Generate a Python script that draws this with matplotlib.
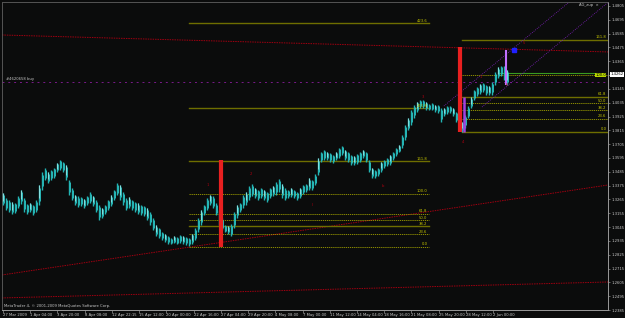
import matplotlib
matplotlib.use("Agg")
import matplotlib.pyplot as plt
import numpy as np

# ---------------- data (prices in points, price*10000) ----------------
highs = [13317,13277,13261,13245,13237,13293,13341,13277,13229,13237,13221,13261,13380,13484,13516,13484,13500,13516,13555,13579,
         13563,13540,13420,13356,13301,13293,13285,13269,13293,13325,13293,13261,13221,13197,13221,13261,13301,13341,13396,13380,
         13325,13277,13285,13261,13245,13237,13221,13213,13197,13165,13118,13062,13038,13006,12990,12974,12958,12974,12966,12982,
         12974,12966,12958,12990,13038,13118,13181,13221,13277,13301,13293,13237,13181,13118,13062,13054,13070,13165,13221,13237,
         13301,13325,13372,13388,13356,13341,13356,13341,13325,13356,13372,13404,13428,13388,13356,13341,13356,13341,13325,13356,
         13380,13388,13436,13420,13468,13595,13643,13659,13643,13635,13619,13643,13675,13691,13659,13643,13619,13611,13627,13643,
         13659,13643,13579,13516,13500,13516,13563,13579,13595,13619,13643,13675,13699,13778,13858,13914,13977,14017,14041,14057,
         14057,14041,14025,14033,14017,14017,13993,13993,14009,14009,13993,13962,13914,13882,13938,14009,14081,14137,14160,14184,
         14192,14176,14168,14200,14280,14320,14328,14328,14296]
lows = [13221,13181,13165,13150,13158,13197,13229,13165,13150,13165,13142,13165,13221,13341,13420,13396,13420,13436,13484,13500,
        13484,13420,13301,13261,13221,13205,13213,13197,13221,13237,13213,13165,13102,13118,13150,13181,13213,13261,13301,13261,
        13221,13181,13197,13181,13165,13150,13142,13134,13102,13062,13022,12974,12958,12943,12927,12911,12911,12919,12911,12919,
        12911,12903,12895,12911,12943,13006,13062,13142,13181,13221,13197,13142,13062,13022,13006,12990,12974,13038,13118,13165,
        13197,13221,13261,13293,13277,13261,13277,13261,13245,13277,13293,13301,13325,13277,13261,13277,13285,13277,13261,13277,
        13309,13325,13341,13341,13380,13460,13563,13579,13579,13563,13555,13579,13595,13619,13579,13563,13540,13540,13547,13563,
        13595,13563,13484,13436,13436,13452,13484,13516,13532,13540,13579,13611,13643,13675,13739,13818,13858,13914,13962,13993,
        13993,13977,13977,13977,13962,13954,13882,13930,13946,13954,13930,13882,13818,13802,13834,13914,13993,14057,14089,14105,
        14121,14097,14097,14097,14176,14232,14248,14216,14176]

date_labels = ["27 Mar 2009", "1 Apr 04:00", "3 Apr 20:00", "8 Apr 08:00", "12 Apr 22:15", "15 Apr 12:00",
               "20 Apr 00:00", "22 Apr 16:00", "27 Apr 04:00", "29 Apr 20:00", "4 May 08:00", "7 May 00:00",
               "11 May 12:00", "14 May 04:00", "18 May 16:00", "21 May 08:00", "25 May 20:00", "28 May 12:00",
               "2 Jun 00:00"]

fib_levels = [0.0, 23.6, 38.2, 50.0, 61.8, 100.0, 161.8, 261.8, 423.6]
fib1_low, fib1_high = 1.2890, 1.3310
fib2_levels = [0.0, 23.6, 38.2, 50.0, 61.8, 100.0, 161.8]
fib2_low, fib2_high = 1.3802, 1.4256
order_price = 1.4200
order_label = "#4620658 buy"
current_price = 1.4262

# y axis price scale
y_first_tick = 1.2385
y_tick_step = 0.0110
n_ticks = 23

# ---------------- figure ----------------
W, H = 625, 318
BG = "#0b0c0c"
fig = plt.figure(figsize=(W / 100, H / 100), dpi=100, facecolor=BG)
ax = fig.add_axes([2 / W, (H - 310) / H, 606 / W, 308 / H], facecolor=BG)

FONT = ["Liberation Sans Narrow", "DejaVu Sans"]
FS = 2.7
TXT = "#c8c8c8"

n = len(highs)
xs = np.arange(n)
hi = np.array(highs) / 1e4
lo = np.array(lows) / 1e4
ax.vlines(xs, lo, hi, color="#22b4b4", lw=1.0, zorder=3)
ax.vlines(xs + 0.45, lo + (hi - lo) * 0.2, hi - (hi - lo) * 0.15, color="#2fcfcf", lw=0.6, zorder=3)
ax.vlines(xs[::3], lo[::3] + (hi[::3] - lo[::3]) * 0.35, hi[::3], color="#b0f0f0", lw=0.5, zorder=3)

x_left, x_right = -0.3, 201.7
ymin = y_first_tick
ymax = y_first_tick + (308 / 13.82) * y_tick_step
ax.set_xlim(x_left, x_right)
ax.set_ylim(ymin, ymax)

# trend / channel lines (dark red dotted)
trend_lines = [((x_left, 1.4574), (x_right, 1.4439)),
               ((x_left, 1.2664), (x_right, 1.3380)),
               ((x_left, 1.2481), (x_right, 1.2608))]
for (x0, y0), (x1, y1) in trend_lines:
    ax.plot([x0, x1], [y0, y1], color="#a00010", lw=0.7, ls=(0, (1.5, 1.0)), zorder=2)

# order line
ax.plot([x_left, x_right], [order_price, order_price], color="#7a1a8a", lw=0.7, ls=(0, (2, 4)), zorder=2)
ax.text(1.0, order_price + 0.0008, order_label, color=TXT, fontsize=FS, family=FONT, va="bottom", ha="left")

# fibonacci set 1
fib1_x0, fib1_x1 = 62, 142
solid1 = {423.6, 261.8, 161.8, 38.2}
for lv in fib_levels:
    p = fib1_low + (fib1_high - fib1_low) * lv / 100
    if lv in solid1:
        ax.plot([fib1_x0, fib1_x1], [p, p], color="#6e6e00", lw=1.0, zorder=2)
    else:
        ax.plot([fib1_x0, fib1_x1], [p, p], color="#a0a000", lw=0.6, ls=(0, (1.5, 1)), zorder=2)
    ax.text(fib1_x1 - 0.5, p + 0.0004, f"{lv:.1f}", color="#c8c800", fontsize=FS, family=FONT,
            ha="right", va="bottom", zorder=4)

# fibonacci set 2
fib2_x0, fib2_x1 = 153, x_right
for lv in fib2_levels:
    p = fib2_low + (fib2_high - fib2_low) * lv / 100
    if lv in (161.8, 61.8, 0.0):
        ax.plot([fib2_x0, fib2_x1], [p, p], color="#6e6e00", lw=1.0, zorder=2)
    else:
        ax.plot([fib2_x0, fib2_x1], [p, p], color="#a0a000", lw=0.6, ls=(0, (1.5, 1)), zorder=2)
    if lv == 100.0:
        ax.text(fib2_x1 - 0.7, p, f"{lv:.1f}", color="#000000", fontsize=FS, family=FONT, ha="right",
                va="center", zorder=5, bbox=dict(boxstyle="square,pad=0.1", fc="#b8d800", ec="none"))
    else:
        ax.text(fib2_x1 - 0.5, p + 0.0004, f"{lv:.1f}", fontsize=FS, family=FONT, ha="right",
                va="bottom", zorder=4, color="#c8c800")

# green line near 100 level
ax.plot([165, 198], [1.4272, 1.4272], color="#3a9a20", lw=0.8, zorder=2)

# vertical bars
ax.vlines([72.7], [1.2887], [1.3579], color="#e82020", lw=3.0, zorder=4)
ax.vlines([152.3], [1.3802], [1.4479], color="#e82020", lw=3.0, zorder=4)
ax.vlines([153.7], [1.3802], [1.4081], color="#a040e0", lw=1.8, zorder=4)
ax.vlines([167.7], [1.4176], [1.4455], color="#c070ff", lw=1.5, zorder=4)
ax.plot([170.3], [1.4455], marker="s", ms=3.5, color="#2020ff", zorder=5)

# purple diagonal lines
diag_lines = [((147, 1.4009), (190, 1.4861)), ((159.7, 1.4001), (202.7, 1.4853))]
for (x0, y0), (x1, y1) in diag_lines:
    ax.plot([x0, x1], [y0, y1], color="#8020c0", lw=0.6, ls=(0, (1, 1.5)), zorder=2)

# zup markers
markers = [("1", 68.3, 1.3380), ("2", 82.7, 1.3469), ("3", 140, 1.4080), ("4", 153.3, 1.3723),
           ("5", 173.7, 1.4510), ("b", 126.7, 1.3372), ("l", 103, 1.3221), ("1", 159.3, 1.4240),
           ("6", 168, 1.4176)]
for t, x, y in markers:
    ax.text(x, y, t, color="#b00010", fontsize=FS, family=FONT, ha="center", va="center", zorder=5)

# texts
ax.text(192, 1.4813, "AG_zup  \u00d7", color=TXT, fontsize=FS, family=FONT, ha="left", va="center")
ax.text(0.003, 0.008, "MetaTrader 4, \u00a9 2001-2009 MetaQuotes Software Corp.", color=TXT, fontsize=FS,
        family=FONT, transform=ax.transAxes, ha="left", va="bottom")

# axes styling
yt = y_first_tick + np.arange(n_ticks) * y_tick_step
ax.yaxis.tick_right()
ax.set_yticks(yt)
ylabels = ["" if abs(v - current_price) < 0.004 else f"{v:.4f}" for v in yt]
ax.set_yticklabels(ylabels, fontsize=FS, color=TXT, family=FONT)
ax.tick_params(axis="y", length=1.5, width=0.5, color="#909090", pad=1.0)
xt = np.arange(len(date_labels)) * 9.08
ax.set_xticks(xt)
ax.set_xticklabels(date_labels, fontsize=FS, color=TXT, family=FONT, ha="left")
ax.tick_params(axis="x", length=2, width=0.5, color="#909090", pad=0.5)

# current price label
ax.text(1.004, (current_price - ymin) / (ymax - ymin), f"{current_price:.4f}", transform=ax.transAxes,
        fontsize=FS, family=FONT, color="#000000", ha="left", va="center",
        bbox=dict(boxstyle="square,pad=0.15", fc="#ffffff", ec="none"), clip_on=False)

for s in ("top", "left"):
    ax.spines[s].set_color("#606060")
    ax.spines[s].set_linestyle((0, (1, 1)))
    ax.spines[s].set_linewidth(0.6)
for s in ("right", "bottom"):
    ax.spines[s].set_color("#9a9a9a")
    ax.spines[s].set_linewidth(0.7)

fig.savefig("out.png", dpi=100, facecolor=BG)
